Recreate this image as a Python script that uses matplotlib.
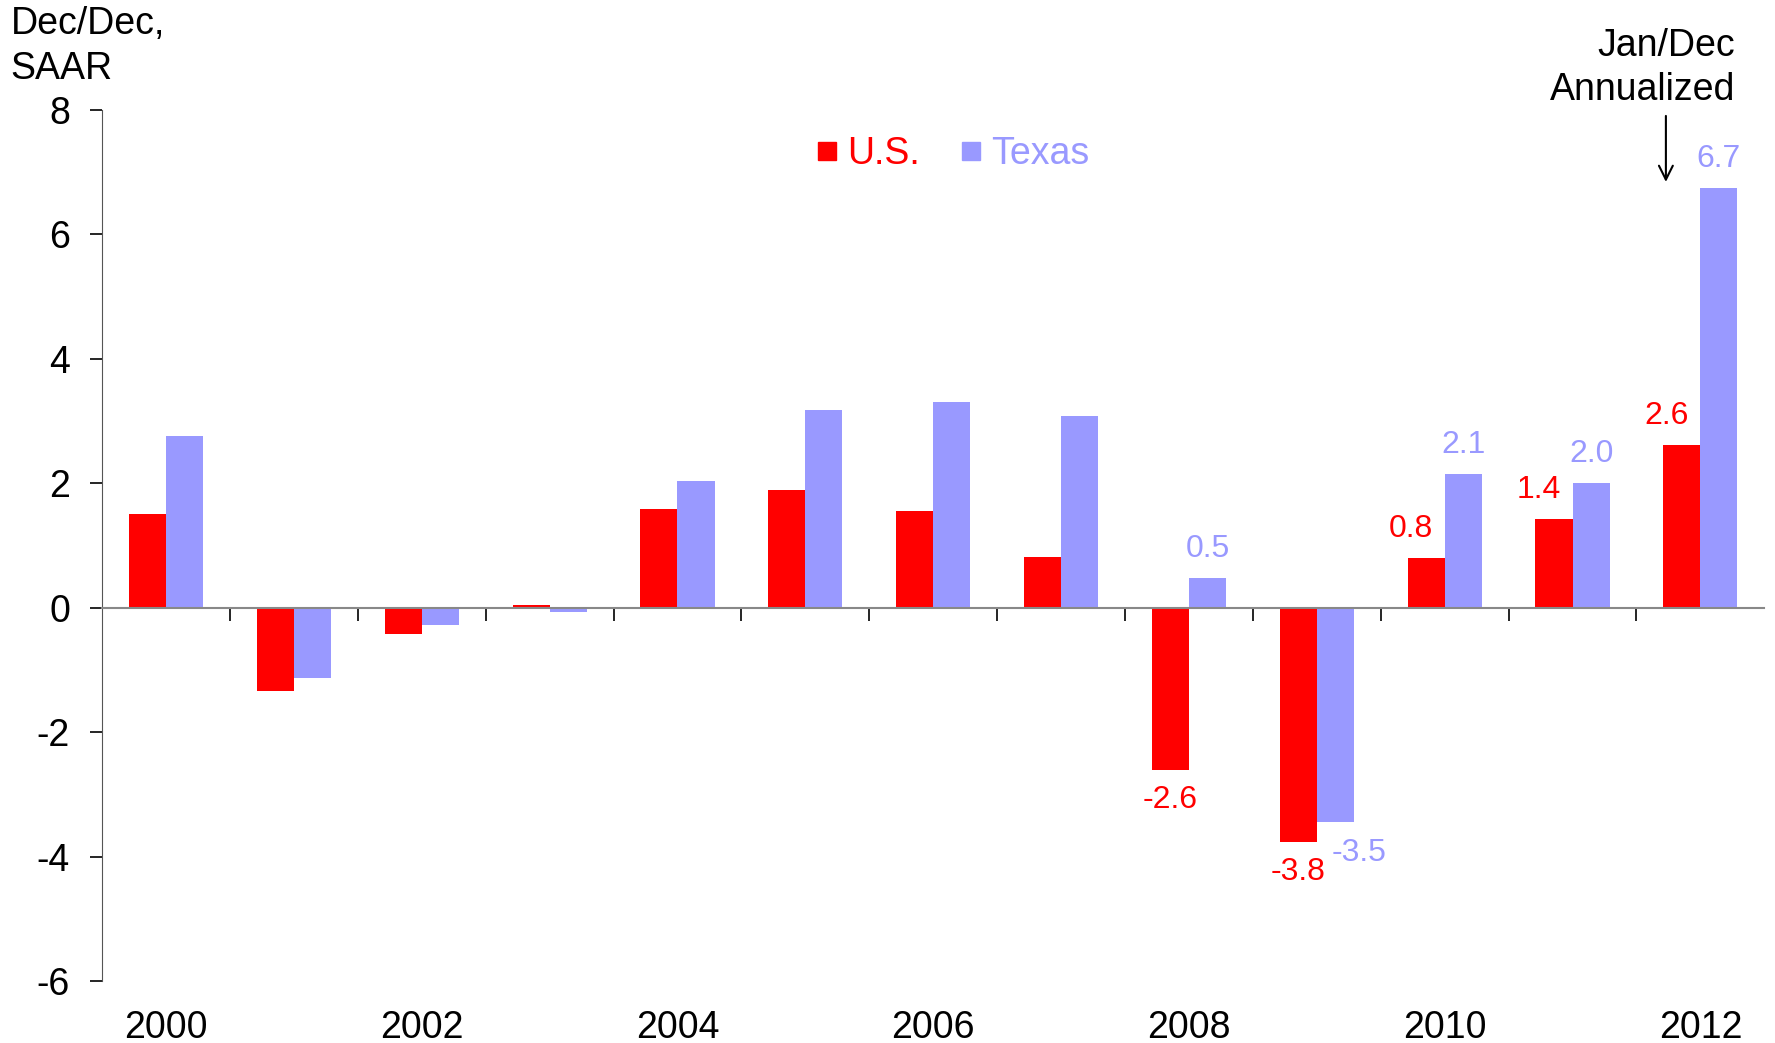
import numpy as np
import matplotlib.pyplot as plt
from matplotlib.lines import Line2D

plt.rcParams['font.family'] = ['Liberation Sans', 'DejaVu Sans']
plt.rcParams['axes.unicode_minus'] = False

# ===== data =====
years = [2000, 2001, 2002, 2003, 2004, 2005, 2006, 2007, 2008, 2009, 2010, 2011, 2012]
us = [1.5, -1.33, -0.42, 0.05, 1.58, 1.89, 1.55, 0.81, -2.6, -3.76, 0.8, 1.42, 2.61]
texas = [2.76, -1.13, -0.28, -0.07, 2.03, 3.18, 3.3, 3.08, 0.48, -3.45, 2.15, 2.01, 6.75]

# labels shown only for the later years
us_labels = {2008: '-2.6', 2009: '-3.8', 2010: '0.8', 2011: '1.4', 2012: '2.6'}
tx_labels = {2008: '0.5', 2009: '-3.5', 2010: '2.1', 2011: '2.0', 2012: '6.7'}

RED = '#ff0000'
LAV = '#9999ff'

fig = plt.figure(figsize=(17.75, 10.43), dpi=100)
ax = fig.add_axes([0.0575, 0.0594, 0.9365, 0.8351])

x = np.arange(len(years))
w = 0.29
ax.bar(x - w/2, us, w, color=RED)
ax.bar(x + w/2, texas, w, color=LAV)

ax.set_xlim(-0.5, len(years) - 0.5)
ax.set_ylim(-6, 8)
ax.set_yticks(np.arange(-6, 9, 2))
ax.tick_params(axis='y', labelsize=27, length=9, width=1.2, direction='out', pad=14)

# x axis line at zero with ticks at category boundaries
for s in ['top', 'right']:
    ax.spines[s].set_visible(False)
ax.spines['left'].set_color('#555555')
ax.spines['bottom'].set_position(('data', 0))
ax.spines['bottom'].set_color('#888888')
ax.spines['bottom'].set_linewidth(1.5)
ax.set_xticks(np.arange(0.5, len(years) - 0.5, 1))
ax.tick_params(axis='x', length=9, width=1.2, direction='out', labelbottom=False)

# year labels along the bottom
sec = ax.secondary_xaxis('bottom')
sec.set_xticks(x[::2])
sec.set_xticklabels([str(y) for y in years[::2]])
sec.spines['bottom'].set_visible(False)
sec.tick_params(length=0, labelsize=27, pad=21)

# data labels
for i, yr in enumerate(years):
    if yr in us_labels:
        v = us[i]
        off = 21 if v >= 0 else -22
        dx = -11 if v >= 0 else 0
        ax.annotate(us_labels[yr], (x[i] - w/2, v), xytext=(dx, off),
                    textcoords='offset points', ha='center', va='center',
                    color=RED, fontsize=23)
    if yr in tx_labels:
        v = texas[i]
        off = 21 if v >= 0 else -22
        dx = 0 if v >= 0 else 17
        ax.annotate(tx_labels[yr], (x[i] + w/2, v), xytext=(dx, off),
                    textcoords='offset points', ha='center', va='center',
                    color=LAV, fontsize=23)

# legend
handles = [Line2D([], [], marker='s', ls='none', color=RED, markersize=13),
           Line2D([], [], marker='s', ls='none', color=LAV, markersize=13)]
ax.legend(handles, ['U.S.', 'Texas'], loc='center', bbox_to_anchor=(0.51, 0.949),
          ncol=2, frameon=False, fontsize=27, labelcolor=[RED, LAV],
          handletextpad=0.1, columnspacing=0.9, handlelength=0.9)

# annotation
ax.annotate('', xy=(11.73, 6.8), xytext=(11.73, 7.95),
            arrowprops=dict(arrowstyle='->', color='black', lw=1.5,
                            mutation_scale=25), annotation_clip=False)
ax.text(12.27, 8.04, 'Jan/Dec\nAnnualized', ha='right', va='bottom',
        multialignment='right', fontsize=27, linespacing=1.28, clip_on=False)

fig.text(0.006, 0.994, 'Dec/Dec,\nSAAR', ha='left', va='top', fontsize=27,
         linespacing=1.33)

fig.savefig('out.png', dpi=100)
